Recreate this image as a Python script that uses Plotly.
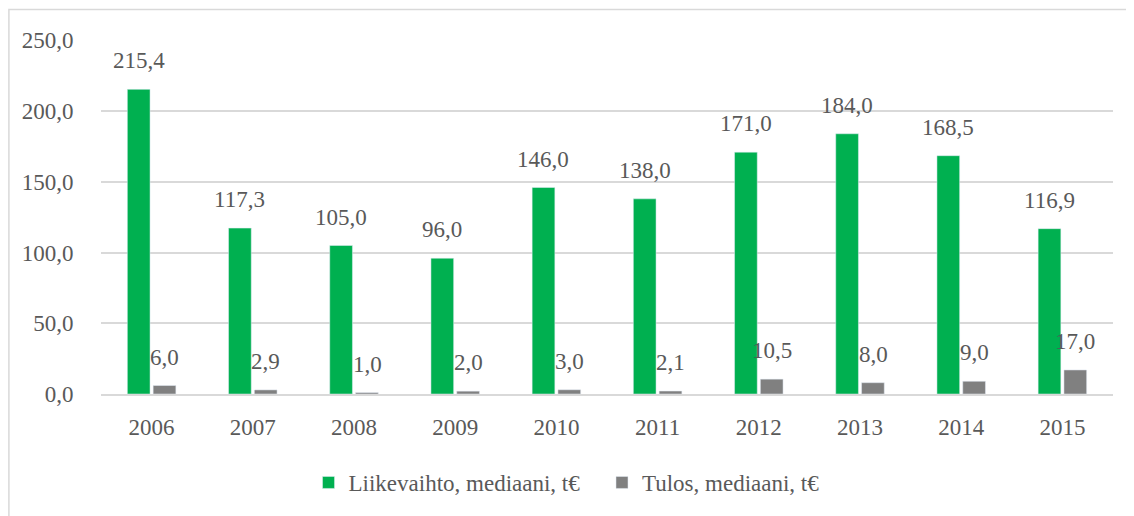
import plotly.graph_objects as go

years = ['2006', '2007', '2008', '2009', '2010', '2011', '2012', '2013', '2014', '2015']
liikevaihto = [215.4, 117.3, 105.0, 96.0, 146.0, 138.0, 171.0, 184.0, 168.5, 116.9]
tulos = [6.0, 2.9, 1.0, 2.0, 3.0, 2.1, 10.5, 8.0, 9.0, 17.0]

GREEN = '#00B050'
GREY = '#808080'
TEXT = '#595959'
FONT = 'Liberation Serif, Times New Roman, serif'


def fmt(v):
    return f'{v:.1f}'.replace('.', ',')


fig = go.Figure()
fig.add_trace(go.Bar(x=years, y=liikevaihto,
                     name='Liikevaihto, mediaani, t€\u00a0\u00a0\u00a0',
                     marker=dict(color=GREEN)))
fig.add_trace(go.Bar(x=years, y=tulos, name='Tulos, mediaani, t€',
                     marker=dict(color=GREY)))

# value labels above bars, shifted onto each bar of the group
# (category index used, since year strings would be read as indices)
for vals, shift in ((liikevaihto, -13), (tulos, 13)):
    for i, v in enumerate(vals):
        fig.add_annotation(x=i, y=v, text=fmt(v), showarrow=False,
                           xshift=shift, yshift=14, yanchor='bottom',
                           font=dict(family=FONT, size=23, color=TEXT))

# outer chart frame
fig.add_shape(type='rect', xref='paper', yref='paper',
              x0=-0.091, y0=-0.6, x1=1.2, y1=1.086,
              line=dict(color='#D9D9D9', width=1.5), layer='below')

# page body adds an 8px offset, so figure is 8px smaller with shifted margins
fig.update_layout(
    width=1126, height=508,
    margin=dict(l=93, r=21, t=32, b=122),
    paper_bgcolor='white', plot_bgcolor='white',
    separators=',.',
    barmode='group', bargap=0.49, bargroupgap=0.12,
    font=dict(family=FONT, size=23, color=TEXT),
    showlegend=True,
    legend=dict(orientation='h', x=0.46, xanchor='center', y=-0.25, yanchor='middle',
                font=dict(family=FONT, size=23, color=TEXT),
                itemwidth=30, traceorder='normal'),
    xaxis=dict(type='category', range=[-0.5, 9.5], showgrid=False, showline=True,
               linecolor='#D9D9D9', linewidth=1.5,
               ticks='outside', ticklen=12, tickcolor='rgba(0,0,0,0)'),
    yaxis=dict(range=[0, 250.3], tickvals=[0, 50, 100, 150, 200, 250], tickformat='.1f',
               showgrid=True, gridcolor='#D9D9D9', gridwidth=1.5, zeroline=False,
               showline=False, ticks='outside', ticklen=22, tickcolor='rgba(0,0,0,0)'),
)

fig.write_html('out.html')
